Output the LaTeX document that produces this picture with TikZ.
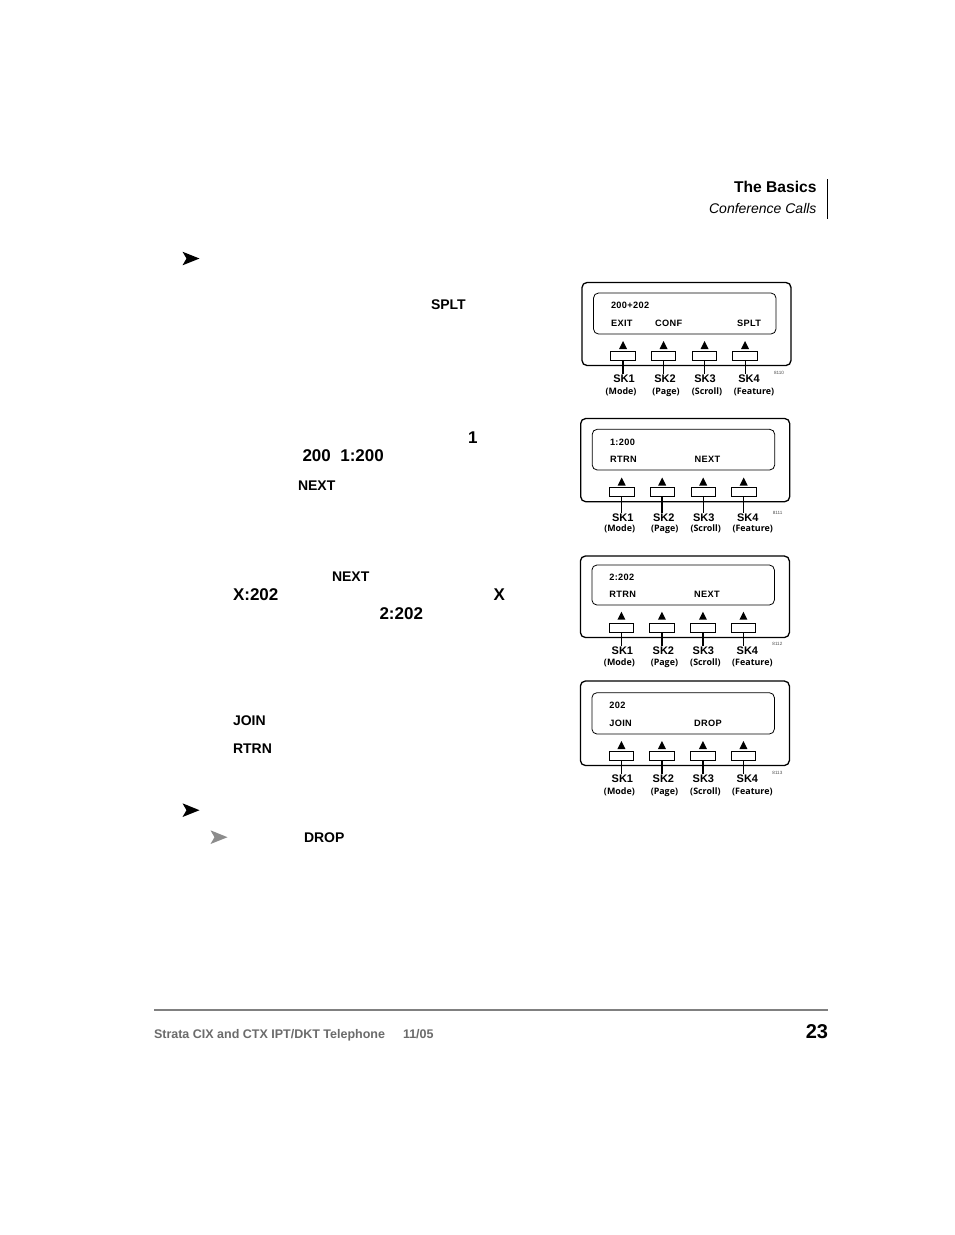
\documentclass[tikz,border=0pt]{standalone}
\usepackage{fontspec}
\setmainfont{Liberation Sans}
\newfontfamily\lcdfont[LetterSpace=4]{Liberation Sans}
\newfontfamily\tagfont{Open Sans}
\newcommand{\fs}[1]{\fontsize{#1}{#1}\selectfont}
\definecolor{footgray}{gray}{0.42}
\definecolor{rulegray}{gray}{0.5}
\definecolor{pointergray}{gray}{0.55}
\tikzset{
  page/.style={inner sep=0pt,outer sep=0pt,anchor=base west,font=\bfseries\fs{14}},
  big/.style={page,font=\bfseries\fs{17}},
  lcd/.style={inner sep=0pt,outer sep=0pt,anchor=base west,font=\lcdfont\bfseries\fs{9.2}},
  casing/.style={draw,line width=1.3pt,rounded corners=5pt},
  screen/.style={draw,line width=.8pt,rounded corners=5pt},
  softkey/.style={draw,line width=.9pt,minimum width=24.5pt,minimum height=9pt,inner sep=0pt,outer sep=0pt},
  sklabel/.style={inner sep=.5pt,outer sep=0pt,anchor=base,font=\bfseries\fs{11}},
  tag/.style={inner sep=0pt,outer sep=0pt,anchor=base,font=\tagfont\bfseries\fs{8.9}},
  code/.style={inner sep=0pt,outer sep=0pt,font=\fs{4.6},text=black!70},
  thinwire/.style={line width=.9pt},
  thickwire/.style={line width=1.7pt},
}
\begin{document}
\begin{tikzpicture}[x=1pt,y=-1pt]
\useasboundingbox[fill=white] (0,0) rectangle (954,1235);

% header
\node[page,font=\bfseries\fs{15.6},anchor=base east] (title) at (816.5,192) {The Basics};
\node[page,font=\itshape\fs{14},anchor=base east] (subtitle) at (816.5,213) {Conference Calls};
\draw[line width=1pt] (827.5,179) -- (827.5,219);

% pointers
\fill (182.5,251.7) -- (199.5,258.5) -- (182.5,265.3) -- (186.5,258.5) -- cycle;
\fill (182.5,803.3) -- (199.5,810.2) -- (182.5,817) -- (186.5,810.2) -- cycle;
\fill[pointergray] (210.5,830.3) -- (227.5,837.2) -- (210.5,844) -- (214.5,837.2) -- cycle;

% body text
\node[page] (t1) at (431,309) {SPLT};
\node[big] (t2) at (468,443) {1};
\node[big] (t3) at (302.5,461) {200\hspace{9.5pt}1:200};
\node[page] (t4) at (298,490) {NEXT};
\node[page] (t5) at (332,581) {NEXT};
\node[big] (t6) at (233,600) {X:202};
\node[big] (t7) at (493.5,600) {X};
\node[big] (t8) at (379.5,619) {2:202};
\node[page] (t9) at (233,725) {JOIN};
\node[page] (t10) at (233,753) {RTRN};
\node[page] (t11) at (304,842) {DROP};

% display panels: name/dx/casing top,bottom/screen top,bottom/triangle top/key centre/SK baseline/tag baseline/code y
\foreach \p/\dx/\ot/\ob/\st/\sb/\tt/\kc/\sky/\tgy/\cdy/\cd in {
  a/0/282.5/365.5/293/334/341/355.5/382.5/394.5/372.5/8110,
  b/-1.3/418.5/501.7/429.3/470/477.5/492.2/521/531.3/512.5/8111,
  c/-1.6/556/637.5/565/605/611.7/627.5/654.5/665.5/643.5/8112,
  d/-1.6/681/765.5/692.7/734/741/755.5/782.5/794.2/772.5/8113}{
  \draw[casing] (582+\dx,\ot) rectangle (791+\dx,\ob);
  \draw[screen] (593.5+\dx,\st) rectangle (776+\dx,\sb);
  \foreach \i/\kx/\sx/\tx/\tg in {1/623/624/621/(Mode),2/663.5/665/666/(Page),3/704.5/705/707/(Scroll),4/745/749/754/(Feature)}{
    \fill (\kx-4+\dx,\tt+8) -- (\kx+\dx,\tt) -- (\kx+4+\dx,\tt+8) -- cycle;
    \node[softkey] (\p\i key) at (\kx+\dx,\kc) {};
    \node[sklabel] (\p\i sk) at (\sx+\dx,\sky) {SK\i};
    \node[tag] (\p\i tag) at (\tx+\dx,\tgy) {\tg};
  }
  \node[code] (\p code) at (779+\dx,\cdy) {\cd};
}

% display texts
\node[lcd] (a-l1) at (611,308.3) {200+202};
\node[lcd] (a-l2) at (611,326) {EXIT};
\node[lcd] (a-l3) at (655,326) {CONF};
\node[lcd] (a-l4) at (737,326) {SPLT};
\node[lcd] (b-l1) at (610,445) {1:200};
\node[lcd] (b-l2) at (610,462) {RTRN};
\node[lcd] (b-l3) at (694.5,462) {NEXT};
\node[lcd] (c-l1) at (609.3,580) {2:202};
\node[lcd] (c-l2) at (609.3,597) {RTRN};
\node[lcd] (c-l3) at (694,597) {NEXT};
\node[lcd] (d-l1) at (609.3,708) {202};
\node[lcd] (d-l2) at (609.3,726) {JOIN};
\node[lcd] (d-l3) at (694,726) {DROP};

% connectors from keys to their labels
\foreach \c in {a3,a4,b1,b3,b4,c4,d4}
  \draw[thinwire] (\c key.south) -- (\c key.south |- \c sk.north);
\foreach \c in {a1,a2,b2,c1,c2,c3,d1,d2,d3}
  \draw[thickwire] (\c key.south) -- (\c key.south |- \c sk.north);

% footer
\draw[rulegray,line width=1.6pt] (154,1010) -- (828,1010);
\node[page,font=\bfseries\fs{12.5},text=footgray] (foot) at (154,1038) {Strata CIX and CTX IPT/DKT Telephone};
\node[page,font=\bfseries\fs{12.5},text=footgray] (date) at (403,1038) {11/05};
\node[page,font=\bfseries\fs{20},anchor=base east] (pageno) at (828,1038.5) {23};
\end{tikzpicture}
\end{document}
